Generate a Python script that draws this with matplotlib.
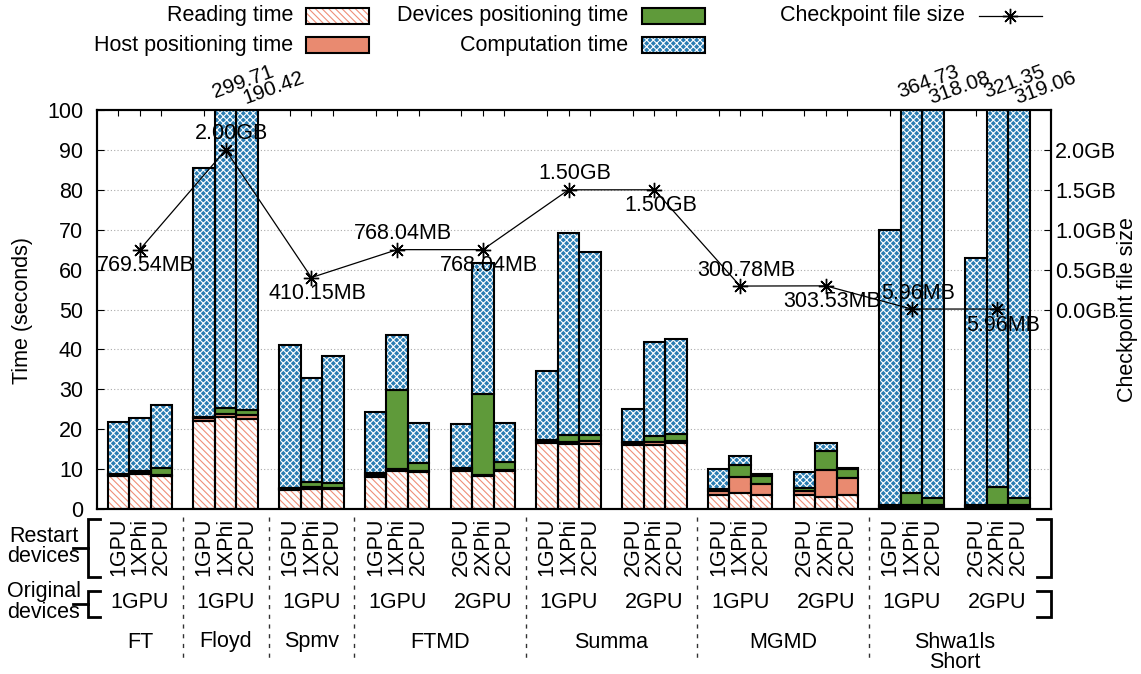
import numpy as np
import matplotlib
matplotlib.use("Agg")
import matplotlib.pyplot as plt
from matplotlib.patches import Rectangle
from matplotlib.lines import Line2D
import matplotlib.transforms as mtransforms

plt.rcParams['font.family'] = ['Liberation Sans', 'DejaVu Sans']
plt.rcParams['hatch.linewidth'] = 0.8

# ---------------- data ----------------
benchmarks = ["FT", "Floyd", "Spmv", "FTMD", "Summa", "MGMD", "Shwa1ls\nShort"]
groups_per_bench = [1, 1, 1, 2, 2, 2, 2]
original_devices = ["1GPU", "1GPU", "1GPU", "1GPU", "2GPU", "1GPU", "2GPU",
                    "1GPU", "2GPU", "1GPU", "2GPU"]
restart_devices = ["1GPU", "1XPhi", "2CPU", "1GPU", "1XPhi", "2CPU", "1GPU", "1XPhi", "2CPU",
                   "1GPU", "1XPhi", "2CPU", "2GPU", "2XPhi", "2CPU",
                   "1GPU", "1XPhi", "2CPU", "2GPU", "2XPhi", "2CPU",
                   "1GPU", "1XPhi", "2CPU", "2GPU", "2XPhi", "2CPU",
                   "1GPU", "1XPhi", "2CPU", "2GPU", "2XPhi", "2CPU"]
reading = [8.2, 8.8, 8.3, 22.0, 23.0, 22.6, 4.7, 5.1, 4.9,
           8.1, 9.6, 9.3, 9.6, 8.3, 9.4,
           16.5, 16.3, 16.4, 16.0, 16.0, 16.5,
           3.5, 3.9, 3.5, 3.5, 3.1, 3.5,
           0.4, 0.4, 0.4, 0.4, 0.4, 0.4]
host = [0.3, 0.3, 0.3, 0.8, 0.8, 0.9, 0.3, 0.3, 0.3,
        0.4, 0.3, 0.3, 0.4, 0.3, 0.3,
        0.6, 0.6, 0.7, 0.6, 0.7, 0.6,
        1.1, 4.0, 2.7, 1.0, 6.6, 4.2,
        0.4, 0.5, 0.5, 0.4, 0.5, 0.5]
device = [0.3, 0.3, 1.6, 0.3, 1.5, 1.3, 0.2, 1.4, 1.2,
          0.4, 20.0, 2.0, 0.4, 20.2, 2.1,
          0.3, 1.6, 1.5, 0.3, 1.7, 1.6,
          0.5, 3.1, 2.1, 0.8, 4.9, 2.2,
          0.1, 3.0, 1.8, 0.2, 4.7, 1.8]
compute = [13.1, 13.3, 15.9, 62.3, 274.41, 165.62, 35.9, 26.0, 31.9,
           15.3, 13.7, 10.0, 10.9, 32.9, 9.7,
           17.3, 50.6, 45.9, 8.2, 23.5, 23.9,
           4.8, 2.3, 0.4, 3.9, 1.9, 0.5,
           69.0, 360.83, 315.38, 61.8, 315.75, 316.36]
ckpt_mb = [769.54, 2048.0, 410.15, 768.04, 768.04, 1536.0, 1536.0,
           300.78, 303.53, 5.96, 5.96]
ckpt_labels = ["769.54MB", "2.00GB", "410.15MB", "768.04MB", "768.04MB", "1.50GB",
               "1.50GB", "300.78MB", "303.53MB", "5.96MB", "5.96MB"]
yticks_left = list(range(0, 101, 10))
yticks_right = [0.0, 0.5, 1.0, 1.5, 2.0]

# ---------------- layout ----------------
W, H = 1141, 674
FS = 15.5
def fx(px): return px / W
def fy(py): return 1 - py / H

fig = plt.figure(figsize=(W / 100, H / 100), dpi=100)
ax = fig.add_axes([fx(97), fy(509), fx(1051) - fx(97), fy(110) - fy(509)])

ngroups = len(original_devices)
xpos = np.array([4 * g + j for g in range(ngroups) for j in range(3)], dtype=float)

layers = [
    (reading, 'white', '#ef8f78', '\\\\\\\\\\'),
    (host, '#e98a70', None, None),
    (device, '#5f9a3a', None, None),
    (compute, '#2a7db3', 'white', 'xxxxx'),
]
bottom = np.zeros(len(xpos))
for vals, fc, hc, hatch in layers:
    vals = np.array(vals)
    if hatch:
        ax.bar(xpos, vals, 1.0, bottom, color=fc, edgecolor=hc, hatch=hatch,
               linewidth=0, zorder=2)
    else:
        ax.bar(xpos, vals, 1.0, bottom, color=fc, linewidth=0, zorder=2)
    ax.bar(xpos, vals, 1.0, bottom, fill=False, edgecolor='black',
           linewidth=1.5, zorder=3)
    bottom = bottom + vals
totals = bottom

ax.set_xlim(-1, 43.5)
ax.set_ylim(0, 100)
ax.set_yticks(yticks_left)
ax.set_yticklabels([str(v) for v in yticks_left], fontsize=FS)
ax.tick_params(axis='y', direction='in', length=5, pad=10, left=True, right=False)
ax.set_xticks(xpos)
ax.tick_params(axis='x', direction='in', length=4, top=True, bottom=True,
               labelbottom=False)
ax.set_axisbelow(True)
ax.yaxis.grid(True, linestyle=(0, (1, 2)), color='#aaaaaa', linewidth=0.8)
for sp in ax.spines.values():
    sp.set_linewidth(1.5)

# overflow labels
over_off = {1: (-11 * 0.72, 12 * 0.72), 2: (-1.5 * 0.72, 6 * 0.72)}
for i, t in enumerate(totals):
    if t > 100:
        dx, dy = over_off[i % 3]
        ax.annotate(f"{t:.2f}", (xpos[i], 100), xytext=(dx, dy),
                    textcoords='offset points', rotation=20, rotation_mode='anchor',
                    ha='left', va='baseline', fontsize=15, annotation_clip=False)

# checkpoint line on secondary axis
ax2 = ax.twinx()
ax2.set_ylim(-2.5, 2.5)
ax2.set_yticks(yticks_right)
ax2.set_yticklabels([f"{v:.1f}GB" for v in yticks_right], fontsize=FS)
ax2.tick_params(axis='y', direction='in', length=5, pad=3)
for sp in ax2.spines.values():
    sp.set_linewidth(1.5)
ckpt_gb = np.array(ckpt_mb) / 1024.0
xline = np.array([4 * g + 1 for g in range(ngroups)], dtype=float)
ax2.plot(xline, ckpt_gb, color='black', lw=0.9, marker=(8, 2, 0),
         markersize=11, mew=1.0, zorder=5)
for i, (xl, v, lbl) in enumerate(zip(xline, ckpt_gb, ckpt_labels)):
    dy = -11.5 if i % 2 == 0 else 11.5
    ax2.annotate(lbl, (xl, v), xytext=(4.3, dy), textcoords='offset points',
                 ha='center', va='center', fontsize=FS, zorder=6)

# axis titles
fig.text(fx(23), fy(310), "Time (seconds)", rotation=90, ha='center', va='center', fontsize=FS)
fig.text(fx(1128), fy(310), "Checkpoint file size", rotation=90, ha='center', va='center', fontsize=FS)

# ---------------- bottom annotations ----------------
trans = mtransforms.blended_transform_factory(ax.transData, fig.transFigure)
for xi, lbl in zip(xpos, restart_devices):
    fig.text(xi, fy(518), lbl, transform=trans, rotation=90, ha='center', va='top', fontsize=FS)
for g, lbl in enumerate(original_devices):
    fig.text(4 * g + 1, fy(602), lbl, transform=trans, ha='center', va='center', fontsize=FS)

gs = 0
for b, (name, n) in enumerate(zip(benchmarks, groups_per_bench)):
    center = (4 * gs + 4 * (gs + n - 1) + 2) / 2.0
    for k, line in enumerate(name.split("\n")):
        fig.text(center, fy(642 + 20 * k), line, transform=trans, ha='center',
                 va='center', fontsize=FS)
    gs += n
    if b < len(benchmarks) - 1:
        xs = 4 * gs - 1
        fig.add_artist(Line2D([xs, xs], [fy(517), fy(660)], transform=trans,
                              color='#333333', lw=1.0, linestyle=(0, (3, 4))))

def fig_line(pts, lw=2.0):
    xs = [fx(p[0]) for p in pts]
    ys = [fy(p[1]) for p in pts]
    fig.add_artist(Line2D(xs, ys, transform=fig.transFigure, color='black', lw=lw,
                          solid_joinstyle='miter'))

# left brackets
fig_line([(100, 519), (88, 519), (88, 577), (100, 577)])
fig_line([(73, 548), (88, 548)])
fig_line([(100, 591), (88, 591), (88, 617), (100, 617)])
fig_line([(73, 604), (88, 604)])
# right brackets
fig_line([(1037, 519), (1051, 519), (1051, 577), (1037, 577)])
fig_line([(1037, 591), (1051, 591), (1051, 617), (1037, 617)])

for k, line in enumerate(["Restart", "devices"]):
    fig.text(fx(44), fy(536 + 21 * k), line, ha='center', va='center', fontsize=FS)
for k, line in enumerate(["Original", "devices"]):
    fig.text(fx(44), fy(591 + 21 * k), line, ha='center', va='center', fontsize=FS)

# ---------------- legend (manual) ----------------
legend_items = [
    ("Reading time", 0, 0, layers[0]),
    ("Host positioning time", 0, 1, layers[1]),
    ("Devices positioning time", 1, 0, layers[2]),
    ("Computation time", 1, 1, layers[3]),
]
text_right = [293, 628, 965]
sw_left = [306, 642, 979]
row_y = [16, 45]
for lbl, c, r, (_, fc, hc, hatch) in legend_items:
    yc = row_y[r]
    fig.text(fx(text_right[c]), fy(yc), lbl, ha='right', va='center', fontsize=FS)
    kw = dict(transform=fig.transFigure)
    if hatch:
        fig.add_artist(Rectangle((fx(sw_left[c]), fy(yc + 8)), 63 / W, 16 / H,
                                 facecolor=fc, edgecolor=hc, hatch=hatch, linewidth=0, **kw))
    else:
        fig.add_artist(Rectangle((fx(sw_left[c]), fy(yc + 8)), 63 / W, 16 / H,
                                 facecolor=fc, linewidth=0, **kw))
    fig.add_artist(Rectangle((fx(sw_left[c]), fy(yc + 8)), 63 / W, 16 / H,
                             fill=False, edgecolor='black', linewidth=1.5, **kw))
fig.text(fx(text_right[2]), fy(row_y[0]), "Checkpoint file size", ha='right', va='center', fontsize=FS)
fig.add_artist(Line2D([fx(979), fx(1042)], [fy(row_y[0])] * 2, transform=fig.transFigure,
                      color='black', lw=0.9))
fig.add_artist(Line2D([fx(1010.5)], [fy(row_y[0])], transform=fig.transFigure,
                      color='black', marker=(8, 2, 0), markersize=11, mew=1.0, linestyle='none'))

fig.savefig("out.png", dpi=100)
